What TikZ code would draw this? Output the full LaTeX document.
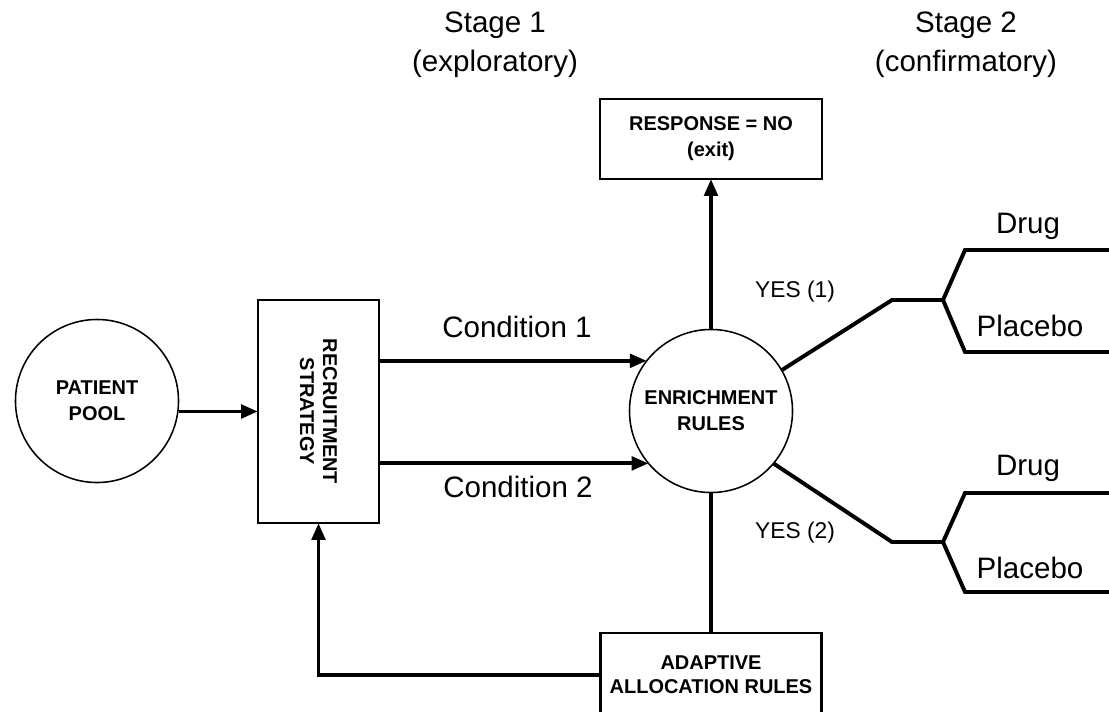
\documentclass[tikz,border=0pt]{standalone}
\usepackage{fontspec}
\setmainfont{Liberation Sans}
\usetikzlibrary{arrows.meta, positioning}

\begin{document}
\begin{tikzpicture}[
  x=0.025cm, y=-0.025cm,
  font=\fontsize{21}{27.6}\selectfont,
  box/.style={
    draw, line width=1.7pt, align=center, inner sep=0pt, outer sep=0pt,
    font=\bfseries\fontsize{14.2}{18.5}\selectfont
  },
  disc/.style={box, circle, line width=1.1pt, minimum size=4.075cm},
  arr/.style={line width=2.8pt, -{Triangle[length=12pt,width=9.5pt]}},
  branch/.style={line width=2.8pt, line join=miter},
  tag/.style={inner sep=0pt, align=center},
  yes/.style={inner sep=0pt, font=\fontsize{16.2}{20}\selectfont}
]
  \useasboundingbox (0,0) rectangle (1109,711);

  % stage headings
  \node[tag] (stage1) at (495,45) {Stage 1\\(exploratory)};
  \node[tag] (stage2) at (966,45) {Stage 2\\(confirmatory)};

  % main blocks
  \node[disc] (pool) at (97,401) {PATIENT\\POOL};
  \node[box, minimum width=3.025cm, minimum height=5.575cm] (recruit) at (318.5,411.5) {};
  \node[box, draw=none, rotate=-90, font=\bfseries\fontsize{14.2}{16.5}\selectfont] (recruit-txt) at (recruit.center) {RECRUITMENT\\STRATEGY};
  \node[disc] (enrich) at (711,411) {ENRICHMENT\\RULES};
  \node[box, minimum width=5.55cm, minimum height=2cm] (resp) at (711,139) {RESPONSE = NO\\(exit)};
  \node[box, minimum width=5.525cm, minimum height=2.1cm, font=\bfseries\fontsize{14.2}{17}\selectfont] (adapt) at (711,675) {ADAPTIVE\\ALLOCATION RULES};

  % flows
  \draw[arr] (recruit.west -| pool.east) -- (recruit.west);
  \draw[arr] (recruit.east |- enrich.142) -- (enrich.142);
  \draw[arr] (recruit.east |- enrich.220) -- (enrich.220);
  \draw[arr] (enrich.north) -- (resp.south);
  \draw[line width=2.8pt] (enrich.south) -- (adapt.north);
  \draw[arr] (adapt.west) -| (recruit.south);

  \node[tag] (cond1) at (517,327) {Condition 1};
  \node[tag] (cond2) at (518,487) {Condition 2};

  % stage 2 arms
  \coordinate (k1) at (892,300);
  \coordinate (f1) at (943,300);
  \coordinate (d1) at (965,250);
  \coordinate (p1) at (965,352);
  \coordinate (d1e) at (1115,250);
  \coordinate (p1e) at (1115,352);
  \coordinate (k2) at (892,542);
  \coordinate (f2) at (943,542);
  \coordinate (d2) at (965,493);
  \coordinate (p2) at (965,592);
  \coordinate (d2e) at (1115,493);
  \coordinate (p2e) at (1115,592);

  \draw[branch] (enrich.30) -- (k1) -- (f1);
  \draw[branch] (d1e) -- (d1) -- (f1) -- (p1) -- (p1e);
  \draw[branch] (enrich.-40) -- (k2) -- (f2);
  \draw[branch] (d2e) -- (d2) -- (f2) -- (p2) -- (p2e);

  \node[yes] (yes1) at (795,292) {YES (1)};
  \node[yes] (yes2) at (795,533) {YES (2)};
  \node[tag] (drug1) at (1028,226) {Drug};
  \node[tag] (plac1) at (1030,326) {Placebo};
  \node[tag] (drug2) at (1028,468) {Drug};
  \node[tag] (plac2) at (1030,568) {Placebo};
\end{tikzpicture}
\end{document}
